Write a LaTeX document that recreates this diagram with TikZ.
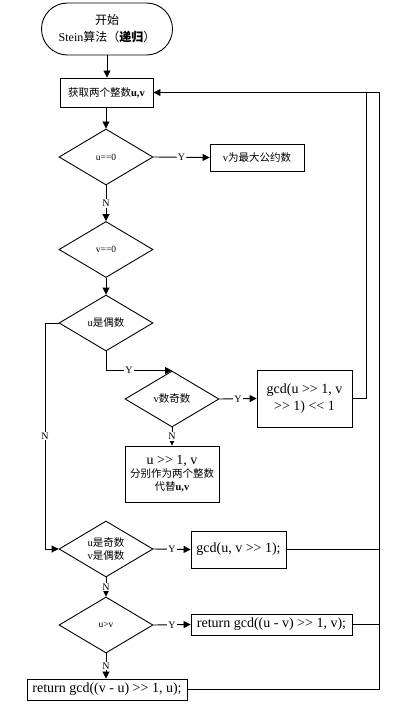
\documentclass[tikz,border=0pt]{standalone}
\usepackage{fontspec}
\setmainfont{Liberation Serif}
\newfontfamily\cjk{Noto Sans CJK SC}
\newcommand\shr{>\kern0pt>}
\newcommand\shl{<\kern0pt<}
\usetikzlibrary{shapes.geometric,arrows.meta}
\begin{document}
\begin{tikzpicture}[x=1bp,y=-1bp,
  every node/.style={inner sep=0pt, font=\fontsize{10.5bp}{13bp}\selectfont, align=center},
  boxn/.style={draw, line width=0.9bp},
  dec/.style={draw, line width=0.9bp, diamond, minimum width=94bp, minimum height=56bp, shape aspect=1.68},
  ln/.style={line width=0.9bp},
  arr/.style={ln, -{Triangle[length=7bp,width=7bp]}},
  lab/.style={fill=white, inner sep=1bp, font=\fontsize{10bp}{12bp}\selectfont},
  big/.style={font=\fontsize{14bp}{17bp}\selectfont},
  mid/.style={font=\fontsize{14bp}{15bp}\selectfont}
]
\useasboundingbox (0,0) rectangle (407,705);
\node[boxn, rounded corners=26bp, minimum width=131bp, minimum height=52bp, font=\fontsize{12bp}{17bp}\selectfont] (start) at (107,29) {{\cjk 开始}\\Stein{\cjk 算法（}{\cjk\bfseries 递归}{\cjk ）}};
\node[boxn, minimum width=93bp, minimum height=29bp] (get) at (106.5,92.5) {{\cjk 获取两个整数}\textbf{u,v}};
\node[dec, font=\fontsize{9.5bp}{11bp}\selectfont] (d1) at (106,157) {u==0};
\node[boxn, minimum width=94bp, minimum height=27bp] (r1) at (257,157.5) {v{\cjk 为最大公约数}};
\node[dec, font=\fontsize{9.5bp}{11bp}\selectfont] (d2) at (106,249.5) {v==0};
\node[dec] (d3) at (106,323) {u{\cjk 是偶数}};
\node[dec] (d4) at (172,399) {v{\cjk 数奇数}};
\node[boxn, minimum width=95bp, minimum height=57bp, big] (g1) at (304.5,398.5) {gcd(u \shr{} 1, v\\\shr{} 1) \shl{} 1};
\node[boxn, minimum width=94bp, minimum height=56bp] (s1) at (172,474) {{\fontsize{14bp}{15bp}\selectfont u \shr{} 1, v}\\{\cjk 分别作为两个整数}\\{\cjk 代替}\textbf{u,v}};
\node[dec] (d5) at (106,549) {u{\cjk 是奇数}\\v{\cjk 是偶数}};
\node[boxn, minimum width=95bp, minimum height=37bp, big] (g2) at (238.5,549.5) {gcd(u, v \shr{} 1);};
\node[dec, font=\fontsize{9.5bp}{11bp}\selectfont] (d6) at (106,625) {u>v};
\node[boxn, minimum width=161bp, minimum height=21bp, mid] (g3) at (271.5,624.5) {return gcd((u - v) \shr{} 1, v);};
\node[boxn, minimum width=160bp, minimum height=21bp, mid] (g4) at (107,689.5) {return gcd((v - u) \shr{} 1, u);};
\coordinate (inner) at (366,92.5);
\coordinate (outer) at (379,92.5);
\coordinate (lft) at (45,323);
% connectors
\draw[arr] (start.south) -- (start.south |- get.north);
\draw[arr] (get.south -| d1.north) -- (d1.north);
\draw[arr] (d1.east) -- node[lab]{Y} (r1.west);
\draw[arr] (d1.south) -- node[lab]{N} (d2.north);
\draw[arr] (d2.south) -- (d3.north);
\draw[arr] (d3.west) -- (lft) -- (lft |- d5.west) -- (d5.west);
\node[lab] (nl) at (45,436) {N};
\draw[arr] (d3.south) |- node[lab, pos=0.675]{Y} (d4.north);
\draw[arr] (d4.east) -- node[lab]{Y} (g1.west);
\draw[arr] (d4.south) -- node[lab]{N} (s1.north);
\draw[arr] (g1.east) -| (inner) -- (get.east);
\draw[arr] (d5.east) -- node[lab]{Y} (g2.west);
\draw[ln] (g2.east) -- (g2.east -| outer);
\draw[arr] (d5.south) -- node[lab]{N} (d6.north);
\draw[arr] (d6.east) -- node[lab]{Y} (g3.west);
\draw[ln] (g3.east) -- (g3.east -| outer);
\draw[arr] (d6.south) -- node[lab]{N} (d6.south |- g4.north);
\draw[ln] (g4.east) -| (outer) -- (inner);
\end{tikzpicture}
\end{document}
